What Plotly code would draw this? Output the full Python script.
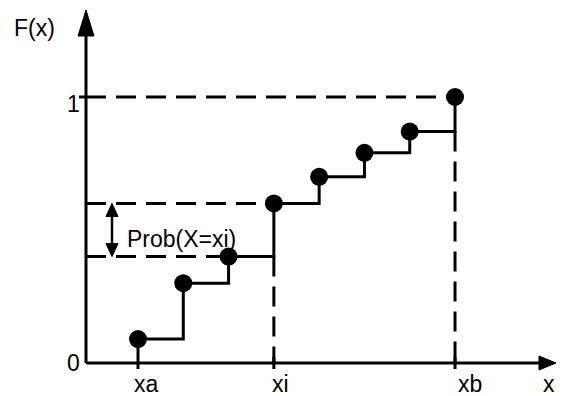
import plotly.graph_objects as go

# Discrete cumulative distribution: jump points and the level F(x) reached at each
jump_x = [1, 2, 3, 4, 5, 6, 7, 8]
cdf = [0.09, 0.30, 0.40, 0.60, 0.70, 0.79, 0.87, 1.00]
named_points = {"xa": 0, "xi": 3, "xb": 7}   # label -> index into jump_x
y_tick_labels = {"0": 0.0, "1": 1.0}
prob_label = "Prob(X=xi)"

W, H = 563, 396
# data units per screen pixel
PX_X = 1 / 45.29
PX_Y = 1 / 266.0

x0 = jump_x[0] - 52 * PX_X          # where the vertical axis sits
x_end = jump_x[0] + 418 * PX_X      # tip of the horizontal axis arrow
y_end = 353 * PX_Y                  # tip of the vertical axis arrow
x_rng = [jump_x[0] - 138 * PX_X, jump_x[0] + (W - 138) * PX_X]
y_rng = [-(H - 363) * PX_Y, 363 * PX_Y]

BLACK = "black"
DASH = "20px,10px"
LW = 3
FONT = dict(family="Arial, Liberation Sans, sans-serif", size=23, color=BLACK)

fig = go.Figure()


def seg(xs, ys, dash="solid", width=LW):
    fig.add_trace(go.Scatter(x=xs, y=ys, mode="lines", hoverinfo="skip",
                             line=dict(color=BLACK, width=width, dash=dash),
                             showlegend=False, cliponaxis=False))


def tri(xs, ys):
    fig.add_trace(go.Scatter(x=xs + [xs[0]], y=ys + [ys[0]], mode="lines",
                             fill="toself", fillcolor=BLACK, hoverinfo="skip",
                             line=dict(color=BLACK, width=1),
                             showlegend=False, cliponaxis=False))


xa = jump_x[named_points["xa"]]
xi_i = named_points["xi"]
xb_i = named_points["xb"]
xi = jump_x[xi_i]
xb = jump_x[xb_i]

# dashed guide lines
seg([x0, xb], [1.0, 1.0], DASH)
seg([x0, xi], [cdf[xi_i], cdf[xi_i]], DASH)
seg([x0, jump_x[xi_i - 1]], [cdf[xi_i - 1], cdf[xi_i - 1]], DASH)
seg([xi, xi], [cdf[xi_i - 1], 0], DASH)
seg([xb, xb], [cdf[xb_i - 1], 0], DASH)

# axes
head_y, half_y = 26 * PX_Y, 8 * PX_X
head_x, half_x = 17 * PX_X, 7 * PX_Y
seg([x0, x_end - head_x], [0, 0])
seg([x0, x0], [0, y_end - head_y])
tri([x0 - half_y, x0 + half_y, x0], [y_end - head_y, y_end - head_y, y_end])
tri([x_end - head_x, x_end - head_x, x_end], [-half_x, half_x, 0])

# ticks
tick = 6 * PX_Y
seg([x0 - 7 * PX_X, x0], [1.0, 1.0])
seg([xa, xa], [cdf[0], -tick])
seg([xi, xi], [tick, -tick])
seg([xb, xb], [tick, -tick])

# staircase of the CDF
fig.add_trace(go.Scatter(x=jump_x, y=cdf, mode="lines", line_shape="hv",
                         line=dict(color=BLACK, width=LW), hoverinfo="skip",
                         showlegend=False, cliponaxis=False))
fig.add_trace(go.Scatter(x=jump_x, y=cdf, mode="markers",
                         marker=dict(color=BLACK, size=18), hoverinfo="skip",
                         showlegend=False, cliponaxis=False))

# double-headed arrow showing the jump at xi
xarr = jump_x[0] - 26 * PX_X
lo, hi = cdf[xi_i - 1], cdf[xi_i]
ah, aw = 13 * PX_Y, 6 * PX_X
seg([xarr, xarr], [lo + ah, hi - ah], width=2.5)
tri([xarr - aw, xarr + aw, xarr], [hi - ah, hi - ah, hi])
tri([xarr - aw, xarr + aw, xarr], [lo + ah, lo + ah, lo])

annotations = [
    dict(x=xarr, y=(lo + hi) / 2, text=prob_label, xanchor="left",
         yanchor="middle", xshift=14, yshift=-9),
    dict(x=x0, y=y_end, text="F(x)", xanchor="center", yanchor="middle",
         xshift=-52, yshift=-18),
    dict(x=x_end, y=0, text="x", xanchor="center", yanchor="middle",
         xshift=-7, yshift=-21),
]
for name, i in named_points.items():
    shift = {"xa": 8, "xi": 7, "xb": 15}[name]
    annotations.append(dict(x=jump_x[i], y=0, text=name, xanchor="center",
                            yanchor="middle", xshift=shift, yshift=-21))
for txt, v in y_tick_labels.items():
    annotations.append(dict(x=x0, y=v, text=txt, xanchor="center",
                            yanchor="middle", xshift=-13,
                            yshift=-7 if v > 0 else 0))
for a in annotations:
    a.update(showarrow=False, font=FONT, borderpad=0)

fig.update_layout(
    width=W, height=H, autosize=False,
    margin=dict(l=0, r=0, t=0, b=0, pad=0),
    paper_bgcolor="white", plot_bgcolor="white",
    xaxis=dict(range=x_rng, visible=False, fixedrange=True),
    yaxis=dict(range=y_rng, visible=False, fixedrange=True),
    annotations=annotations,
    showlegend=False,
)

fig.write_html("out.html")
